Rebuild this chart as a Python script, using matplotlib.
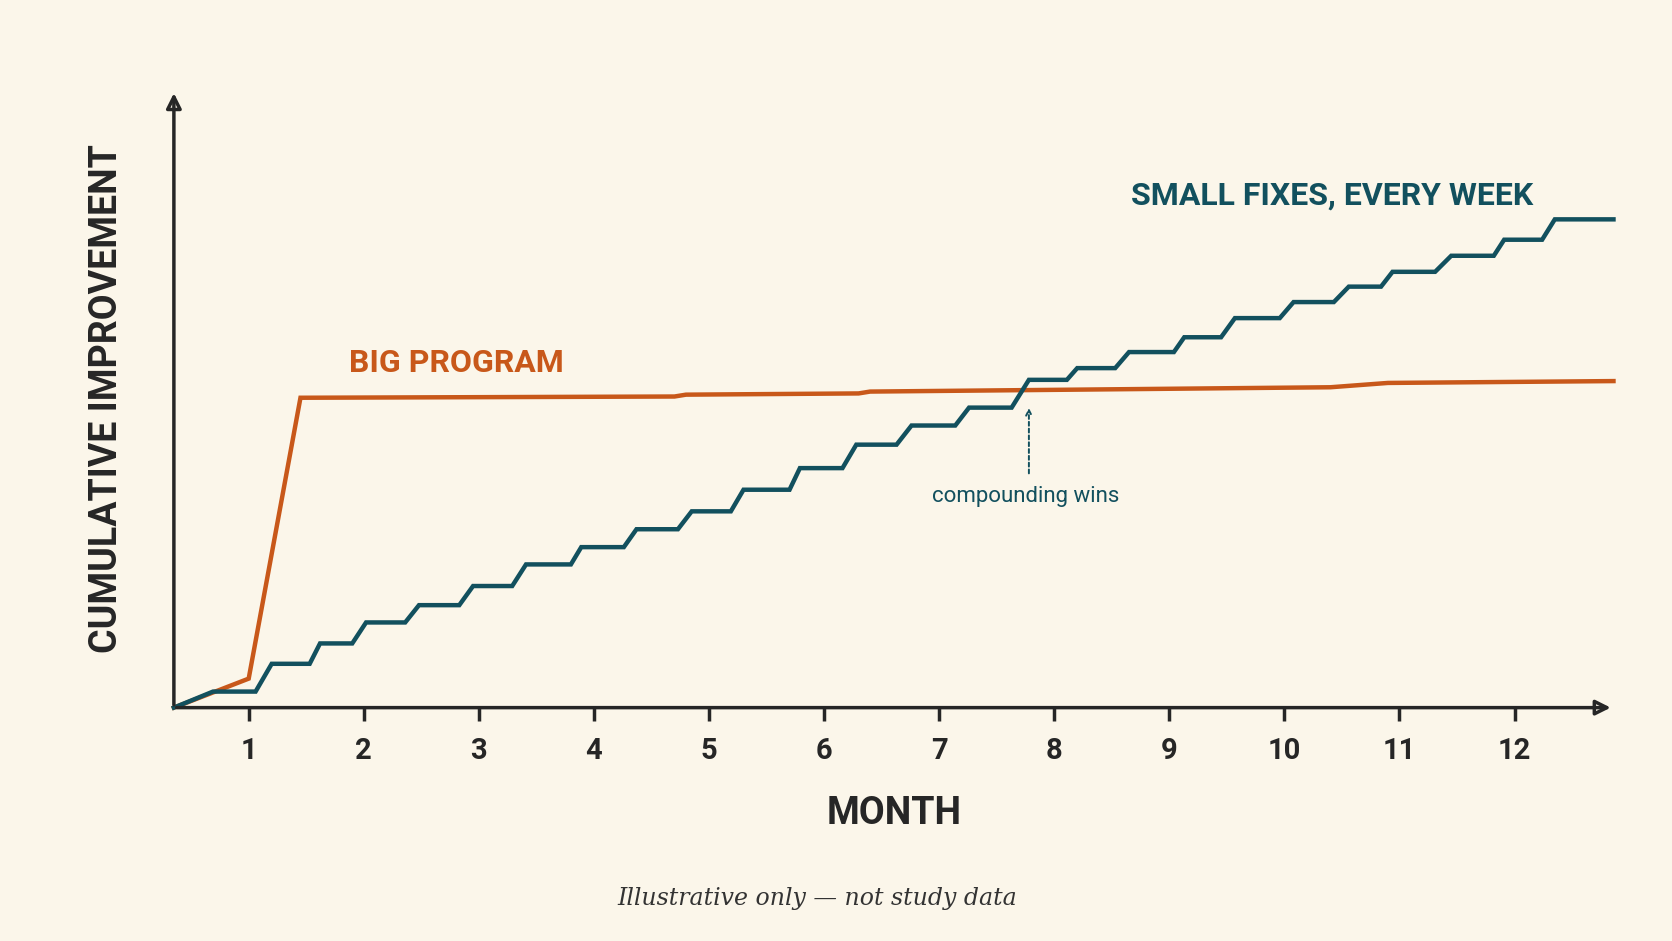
import matplotlib
matplotlib.use("Agg")
import matplotlib.pyplot as plt

months = [1, 2, 3, 4, 5, 6, 7, 8, 9, 10, 11, 12]
big_x = [0.35, 1.0, 1.45, 4.7, 4.8, 6.3, 6.4, 10.4, 10.9, 12.86]
big_y = [0.0, 4.7, 50.2, 50.4, 50.7, 50.9, 51.2, 51.9, 52.6, 52.9]
small_x = [0.35, 0.69, 1.06, 1.20, 1.53, 1.62, 1.90, 2.02, 2.36, 2.48, 2.83, 2.95, 3.29, 3.41, 3.80,
           3.89, 4.26, 4.37, 4.73, 4.85, 5.19, 5.30, 5.70, 5.79, 6.16, 6.28, 6.63, 6.76, 7.14,
           7.26, 7.63, 7.78, 8.11, 8.20, 8.53, 8.65, 9.04, 9.13, 9.45, 9.57, 9.96, 10.08, 10.43,
           10.56, 10.84, 10.94, 11.31, 11.45, 11.82, 11.91, 12.24, 12.35, 12.86]
small_y = [0.0, 2.6, 2.6, 7.1, 7.1, 10.4, 10.4, 13.8, 13.8, 16.6, 16.6, 19.7, 19.7, 23.2, 23.2,
           26.0, 26.0, 28.9, 28.9, 31.8, 31.8, 35.3, 35.3, 38.8, 38.8, 42.6, 42.6, 45.7, 45.7,
           48.6, 48.6, 53.1, 53.1, 55.0, 55.0, 57.6, 57.6, 60.0, 60.0, 63.1, 63.1, 65.7, 65.7,
           68.2, 68.2, 70.6, 70.6, 73.2, 73.2, 75.8, 75.8, 79.1, 79.1]

BG = "#FBF6EA"; ORANGE = "#C8581A"; TEAL = "#12505E"; DARK = "#262626"
fig = plt.figure(figsize=(16.72, 9.41), dpi=100, facecolor=BG)
ax = fig.add_axes([0.104, 0.248, 0.861, 0.656], facecolor=BG)
ax.set_xlim(0.35, 12.86)
ax.set_ylim(0, 100)
for s in ax.spines.values():
    s.set_visible(False)
ax.annotate("", xy=(1.0, 0), xytext=(0, 0), xycoords="axes fraction",
            arrowprops=dict(arrowstyle="-|>,head_length=0.9,head_width=0.45", color=DARK, lw=2.5, fill=False), annotation_clip=False)
ax.annotate("", xy=(0, 1.0), xytext=(0, 0), xycoords="axes fraction",
            arrowprops=dict(arrowstyle="-|>,head_length=0.9,head_width=0.45", color=DARK, lw=2.5, fill=False), annotation_clip=False)

ax.plot(big_x, big_y, color=ORANGE, lw=3.2, solid_joinstyle="miter", clip_on=False)
ax.plot(small_x, small_y, color=TEAL, lw=3.2, solid_joinstyle="miter", clip_on=False)

ax.set_xticks(months)
ax.set_xticklabels([str(m) for m in months], fontsize=21, fontweight="bold", color=DARK, family="Roboto")
ax.tick_params(axis="x", length=9, width=2.5, color=DARK, pad=12)
ax.set_yticks([])

ax.text(1.87, 55.9, "BIG PROGRAM", color=ORANGE, fontsize=23, fontweight="bold", family="Roboto",
        ha="left", va="center", stretch="condensed")
ax.text(12.16, 83.0, "SMALL FIXES, EVERY WEEK", color=TEAL, fontsize=23, fontweight="bold", family="Roboto",
        ha="right", va="center")
ax.annotate("", xy=(7.78, 49.0), xytext=(7.78, 37.5),
            arrowprops=dict(arrowstyle="->", color=TEAL, lw=1.4, linestyle=(0, (2, 1.5))))
ax.text(7.75, 34.2, "compounding wins", color=TEAL, fontsize=16, family="Roboto", ha="center", va="center")

ax.set_xlabel("MONTH", fontsize=27, fontweight="bold", color=DARK, family="Roboto", labelpad=22)
ax.set_ylabel("CUMULATIVE IMPROVEMENT", fontsize=27, fontweight="bold", color=DARK, family="Roboto", labelpad=35)
fig.text(0.489, 0.045, "Illustrative only \u2014 not study data", fontsize=17, style="italic",
         family="DejaVu Serif", color="#333333", ha="center", va="center")

fig.savefig("out.png", dpi=100, facecolor=BG)
